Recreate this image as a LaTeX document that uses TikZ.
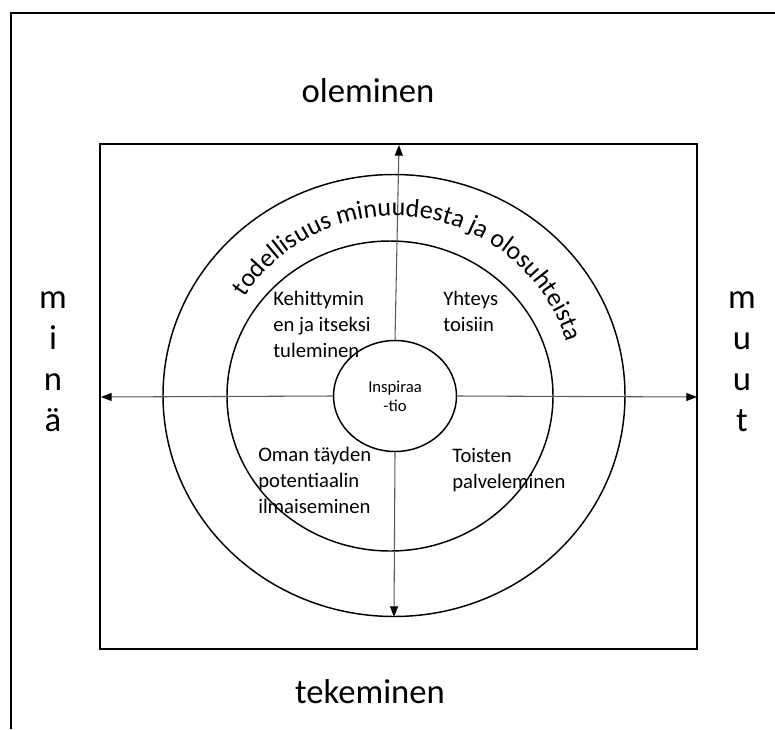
\documentclass[tikz,border=0pt]{standalone}
\usepackage{fontspec}
\setmainfont{Carlito}
\usetikzlibrary{shapes.geometric,arrows.meta,decorations.text}
\begin{document}
\begin{tikzpicture}[x=0.75pt,y=-0.75pt,
  big/.style={font=\fontsize{26}{30.75}\selectfont, align=center, inner sep=0pt},
  mid/.style={font=\fontsize{15.5}{19.5}\selectfont, align=left, inner sep=0pt, anchor=west},
  small/.style={font=\fontsize{12.5}{14.25}\selectfont, align=center, inner sep=0pt},
  ring/.style={draw, ellipse, line width=1.1pt, inner sep=0pt},
  axis/.style={draw=black!65, line width=0.8pt, -{Triangle[length=8pt,width=6pt,color=black,fill=black]}},
  frame/.style={line width=1.6pt}
  ]
\useasboundingbox (0,0) rectangle (775,729);
% outer L-shaped frame
\draw[frame] (11,729) -- (11,13) -- (775,13);
% inner rectangle
\node[draw, frame, minimum width=447.75pt, minimum height=378.75pt, inner sep=0pt] (box) at (398.75,396.5) {};
% circles
\node[ring, minimum width=2*231*0.75pt, minimum height=2*221*0.75pt] (outer) at (394,395.5) {};
\node[ring, minimum width=2*163*0.75pt, minimum height=2*155*0.75pt] (inner) at (390,396) {};
\node[ring, minimum width=2*61.5*0.75pt, minimum height=2*55.5*0.75pt] (core) at (395,396) {};
\node[small] (insp) at (395,396) {Inspiraa\\-tio};
% axes
\coordinate (topend) at (399,145);
\coordinate (botend) at (394,617);
\coordinate (leftend) at (101,397);
\coordinate (rightend) at (697,397);
\draw[axis] (core.north) -- (topend);
\draw[axis] (core.south) -- (botend);
\draw[axis] (core.west) -- (leftend);
\draw[axis] (core.east) -- (rightend);
% curved text
\path[decorate, decoration={text along path, text align=center,
  text={|\fontsize{19.5}{20}\selectfont|todellisuus minuudesta ja olosuhteista}}]
  (395,396) ++(147:135pt) arc[start angle=147, end angle=17, radius=135pt];
% labels
\node[big] (olem) at (368,91) {oleminen};
\node[big] (tek) at (370,692) {tekeminen};
\node[big] (mina) at (53,362) {m\\i\\n\\ä};
\node[big] (muut) at (742,362) {m\\u\\u\\t};
\node[mid] (keh) at (273,324) {Kehittymin\\en ja itseksi\\tuleminen};
\node[mid] (yht) at (443,311) {Yhteys\\toisiin};
\node[mid] (oman) at (258,480) {Oman täyden\\potentiaalin\\ilmaiseminen};
\node[mid] (toi) at (452,470) {Toisten\\palveleminen};
\end{tikzpicture}
\end{document}
